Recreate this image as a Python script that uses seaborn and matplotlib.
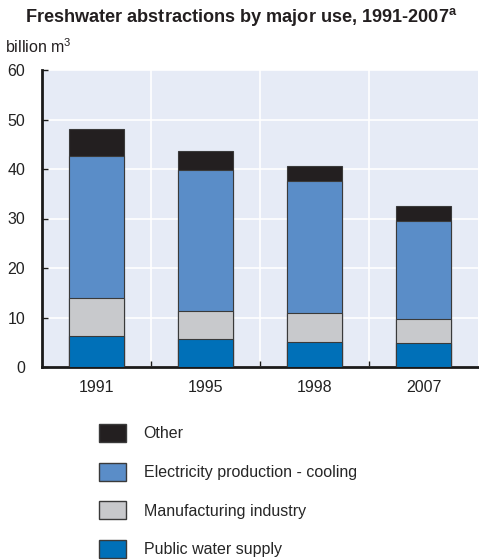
import matplotlib
matplotlib.use("Agg")
import matplotlib.pyplot as plt
from matplotlib.patches import Patch
from matplotlib.ticker import FixedLocator
import numpy as np
import pandas as pd
import seaborn as sns

years = ["1991", "1995", "1998", "2007"]
public_water = [6.3, 5.6, 5.1, 4.8]
manufacturing = [7.6, 5.8, 5.9, 4.8]
electricity = [28.8, 28.3, 26.6, 19.8]
other = [5.4, 4.0, 3.1, 3.2]

series_names = ["Public water supply", "Manufacturing industry",
                "Electricity production - cooling", "Other"]
series_values = [public_water, manufacturing, electricity, other]
series_colors = ["#0070b8", "#c8c9cc", "#5a8dc8", "#231f20"]
yticks = [0, 10, 20, 30, 40, 50, 60]

sns.set_theme(style="white")
plt.rcParams["font.family"] = ["Liberation Sans", "DejaVu Sans"]

fig = plt.figure(figsize=(4.79, 5.6), dpi=100)
ax = fig.add_axes([42 / 479, 1 - 367 / 560, 436 / 479, 297 / 560])
ax.set_facecolor("#e6ebf6")

# stacked bars: draw cumulative totals from the top series down
cum = np.cumsum(np.array(series_values), axis=0)
for i in range(len(series_names) - 1, -1, -1):
    df = pd.DataFrame({"year": years, "value": cum[i]})
    sns.barplot(data=df, x="year", y="value", color=series_colors[i],
                saturation=1, width=0.51, edgecolor="#3a3a3a", linewidth=0.8,
                ax=ax, zorder=3)

ax.set_xlim(-0.5, 3.5)
ax.set_ylim(0, 60)
ax.set_yticks(yticks)
ax.set_yticklabels([str(t) for t in yticks])
ax.xaxis.set_minor_locator(FixedLocator([0.5, 1.5, 2.5]))
ax.grid(False)
ax.yaxis.grid(True, color="white", linewidth=1.2, zorder=0)
ax.xaxis.grid(True, which="minor", color="white", linewidth=1.2, zorder=0)
ax.set_axisbelow(True)

for s in ["top", "right"]:
    ax.spines[s].set_visible(False)
for s in ["left", "bottom"]:
    ax.spines[s].set_visible(True)
    ax.spines[s].set_color("#1a1a1a")
    ax.spines[s].set_linewidth(2.0)

ax.tick_params(axis="y", which="major", direction="in", length=4, width=1,
               color="#1a1a1a", labelsize=11.5, labelcolor="#222222", pad=12, left=True)
ax.tick_params(axis="x", which="major", length=0, labelsize=11.5,
               labelcolor="#222222", pad=9)
ax.tick_params(axis="x", which="minor", direction="in", length=4, width=1,
               color="#1a1a1a", bottom=True)
ax.set_xlabel("")
ax.set_ylabel("")

fig.text(25 / 479, 1 - 17 / 560, "Freshwater abstractions by major use, 1991-2007$^{\\mathregular{a}}$",
         fontsize=13.1, fontweight="bold", color="#231f20", va="center", ha="left")
fig.text(5 / 479, 1 - 47 / 560, "billion m$^{\\mathregular{3}}$", fontsize=11.5,
         color="#231f20", va="center", ha="left")

handles = [Patch(facecolor=series_colors[i], edgecolor="#3a3a3a", linewidth=1.0,
                 label=series_names[i]) for i in range(len(series_names) - 1, -1, -1)]
fig.legend(handles=handles, loc="upper left",
           bbox_to_anchor=(99 / 479, 1 - 424 / 560), frameon=False,
           fontsize=11.5, handlelength=1.7, handleheight=1.35,
           handletextpad=1.1, labelspacing=1.3, borderaxespad=0, borderpad=0)

fig.savefig("out.png", dpi=100)
